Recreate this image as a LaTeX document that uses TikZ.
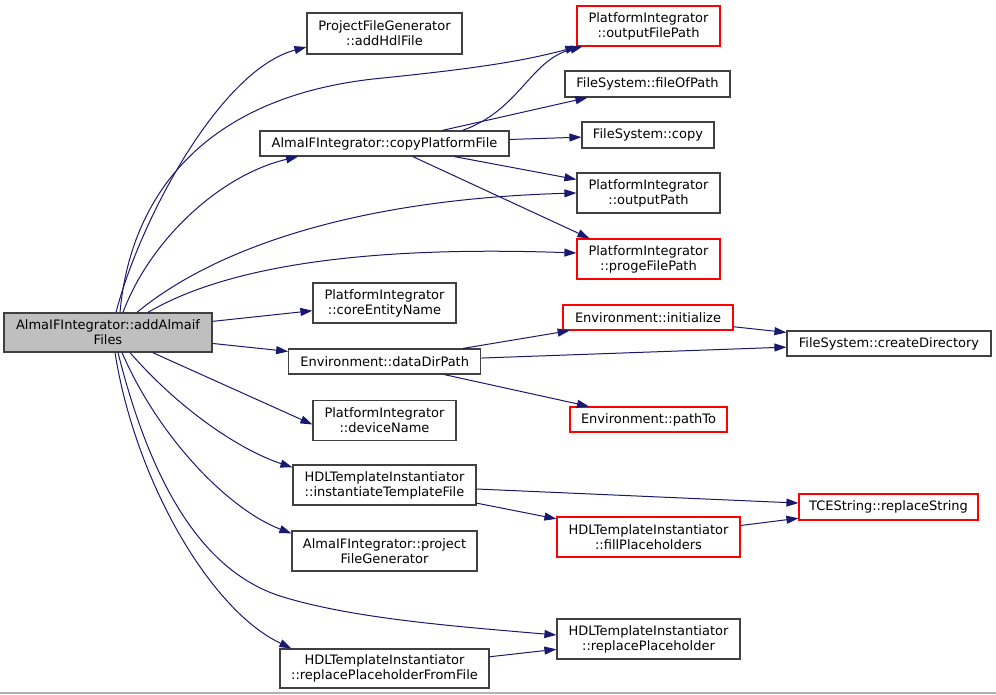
\documentclass[tikz,border=0pt]{standalone}
\usepackage{fontspec}
\setmainfont{DejaVu Sans}
\usetikzlibrary{arrows.meta}
\definecolor{edgec}{HTML}{191970}
\definecolor{boxc}{HTML}{404040}
\definecolor{rootfill}{HTML}{BFBFBF}
\begin{document}
\begin{tikzpicture}[x=1pt,y=-1pt,
  box/.style={draw=boxc, line width=1.2pt, fill=white, inner sep=0pt, align=center,
    font=\fontsize{13}{15}\selectfont},
  redbox/.style={box, draw=red},
  edge/.style={draw=edgec, line width=1pt, -{Triangle[length=12pt,width=8pt]}}]
\useasboundingbox (0,0) rectangle (996,695);
\fill[white] (0,0) rectangle (996,695);
\draw[gray!60, line width=1.5pt] (0,693) -- (996,693);

% nodes
\node[box, fill=rootfill, minimum width=208pt, minimum height=39pt] (root) at (108,332.5) {AlmaIFIntegrator::addAlmaif\\Files};
\node[box, minimum width=155pt, minimum height=41pt] (hdl) at (384.5,33.5) {ProjectFileGenerator\\::addHdlFile};
\node[redbox, minimum width=143pt, minimum height=40pt] (ofp) at (648.5,26) {PlatformIntegrator\\::outputFilePath};
\node[box, minimum width=165pt, minimum height=26pt] (fop) at (647.5,84) {FileSystem::fileOfPath};
\node[box, minimum width=249pt, minimum height=25pt] (cpf) at (384.5,143.5) {AlmaIFIntegrator::copyPlatformFile};
\node[box, minimum width=132pt, minimum height=26pt] (fcopy) at (648,135) {FileSystem::copy};
\node[box, minimum width=143pt, minimum height=40pt] (op) at (648.5,193) {PlatformIntegrator\\::outputPath};
\node[redbox, minimum width=143pt, minimum height=40pt] (pfp) at (648.5,259) {PlatformIntegrator\\::progeFilePath};
\node[box, minimum width=143pt, minimum height=40pt] (cen) at (384.5,303) {PlatformIntegrator\\::coreEntityName};
\node[box, minimum width=192pt, minimum height=25pt] (ddp) at (384.75,361.5) {Environment::dataDirPath};
\node[redbox, minimum width=170pt, minimum height=25pt] (init) at (648,317.5) {Environment::initialize};
\node[box, minimum width=204pt, minimum height=25pt] (cdir) at (889,343.5) {FileSystem::createDirectory};
\node[redbox, minimum width=157pt, minimum height=25pt] (pto) at (648.5,419.5) {Environment::pathTo};
\node[box, minimum width=143pt, minimum height=40pt] (dev) at (384.5,420.5) {PlatformIntegrator\\::deviceName};
\node[box, minimum width=183pt, minimum height=40pt] (itf) at (384.5,485) {HDLTemplateInstantiator\\::instantiateTemplateFile};
\node[redbox, minimum width=179pt, minimum height=26pt] (rs) at (888.5,507) {TCEString::replaceString};
\node[redbox, minimum width=183pt, minimum height=40pt] (fph) at (648.5,537) {HDLTemplateInstantiator\\::fillPlaceholders};
\node[box, minimum width=185pt, minimum height=40pt] (pfg) at (384.5,551) {AlmaIFIntegrator::project\\FileGenerator};
\node[box, minimum width=183pt, minimum height=40pt] (rp) at (648.5,639) {HDLTemplateInstantiator\\::replacePlaceholder};
\node[box, minimum width=209pt, minimum height=39pt] (rpff) at (384.5,668.5) {HDLTemplateInstantiator\\::replacePlaceholderFromFile};

% curved edges from root
\draw[edge] ([xshift=8pt]root.north) .. controls (140,220) and (220,70) .. ([yshift=-13.5pt]hdl.west);
\draw[edge] ([xshift=12pt]root.north) .. controls (130,200) and (200,95) .. (383,78)
   .. controls (470,69) and (520,62) .. ([xshift=1pt]ofp.south west);
\draw[edge] ([xshift=15pt]root.north) .. controls (150,240) and (220,175) .. ([xshift=-86.5pt]cpf.south);
\draw[edge] ([xshift=29pt]root.north) .. controls (200,260) and (330,200) .. (op.west);
\draw[edge] ([xshift=40pt]root.north) .. controls (220,270) and (350,245) .. ([yshift=6pt]pfp.west);
\draw[edge] (root) -- (cen);
\draw[edge] (root) -- (ddp);
\draw[edge] (root) -- ([yshift=-4pt]dev.west);
\draw[edge] ([xshift=22pt]root.south) .. controls (180,410) and (240,450) .. ([yshift=-3pt]itf.north west);
\draw[edge] ([xshift=14pt]root.south) .. controls (160,440) and (230,510) .. ([yshift=-3pt]pfg.north west);
\draw[edge] ([xshift=10pt]root.south) .. controls (150,480) and (200,570) .. (280,596)
   .. controls (350,618) and (450,626) .. ([yshift=4pt]rp.west);
\draw[edge] ([xshift=7pt]root.south) .. controls (135,480) and (210,610) .. ([xshift=12pt]rpff.north west);

% edges from copyPlatformFile
\draw[edge] ([xshift=78pt]cpf.north) .. controls (520,110) and (530,60) .. ([xshift=6pt]ofp.south west);
\draw[edge] (cpf) -- (fop);
\draw[edge] (cpf) -- (fcopy);
\draw[edge] (cpf) -- (op);
\draw[edge] (cpf) -- ([xshift=-59pt]pfp.north);

% edges from dataDirPath
\draw[edge] (ddp) -- (init);
\draw[edge] (ddp) -- (cdir);
\draw[edge] (ddp) -- (pto);
\draw[edge] (init) -- (cdir);

% template edges
\draw[edge] (itf) -- (rs);
\draw[edge] (itf) -- (fph);
\draw[edge] (fph) -- (rs);
\draw[edge] (rpff) -- (rp);
\end{tikzpicture}
\end{document}
